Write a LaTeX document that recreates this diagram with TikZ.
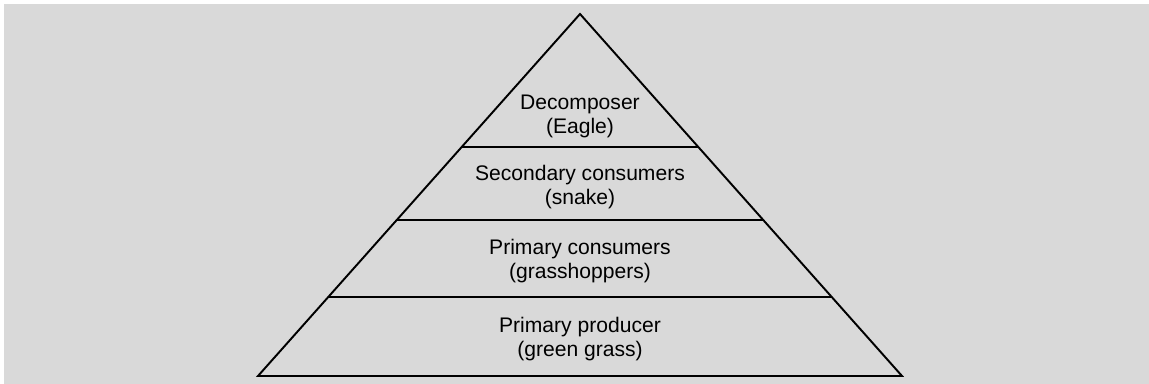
\documentclass[tikz,border=0pt]{standalone}
\usepackage{fontspec}
\setmainfont{Liberation Sans}
\usetikzlibrary{positioning}

\begin{document}
\begin{tikzpicture}[x=0.02cm,y=-0.02cm]
%
\useasboundingbox (0,0) rectangle (1149,384);
%
\definecolor{cbg}{rgb}{0.851,0.851,0.851}
\definecolor{cln}{rgb}{0.0,0.0,0.0}
\definecolor{clt}{rgb}{0.0,0.0,0.0}
\tikzset{
  level/.style={draw=cln,line width=1.1pt},
  tag/.style={text=clt,align=center,font=\fontsize{12}{13.6}\selectfont,inner sep=0pt}
}
%
\fill[cbg] (4,4) rectangle (1149,384);
%
\coordinate (top) at (580,14);
\coordinate (bl) at (258,376);
\coordinate (br) at (902,376);
\coordinate (l1) at (461.7,147);
\coordinate (r1) at (698.3,147);
\coordinate (l2) at (396.8,220);
\coordinate (r2) at (763.2,220);
\coordinate (l3) at (328.3,297);
\coordinate (r3) at (831.7,297);
%
\draw[level,line join=miter] (bl) -- (top) -- (br) -- cycle;
\draw[level] (l1) -- (r1);
\draw[level] (l2) -- (r2);
\draw[level] (l3) -- (r3);
%
\node[tag] (dec) at (580,116) {Decomposer\\(Eagle)};
\node[tag] (sec) at (580,187) {Secondary consumers\\(snake)};
\node[tag] (pcon) at (580,261) {Primary consumers\\(grasshoppers)};
\node[tag] (prod) at (580,339) {Primary producer\\(green grass)};
%
\end{tikzpicture}
\end{document}
